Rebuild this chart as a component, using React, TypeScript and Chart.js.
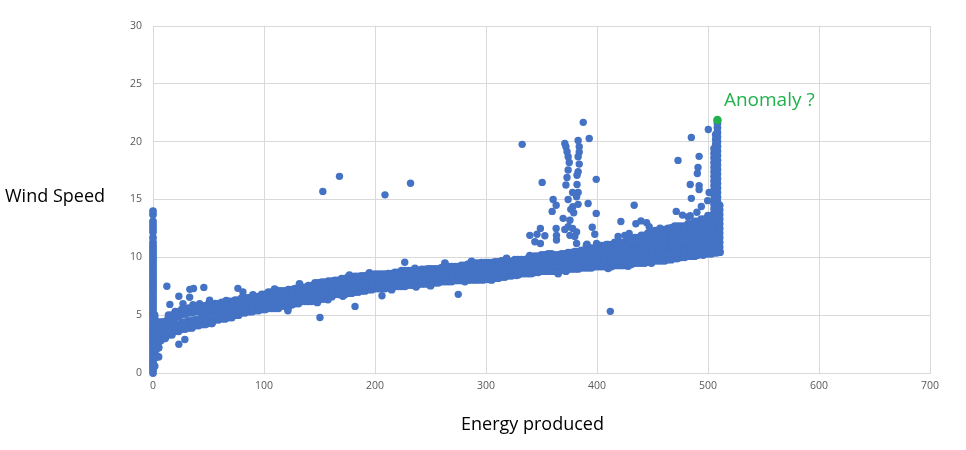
import React, { useEffect, useRef } from "react";
import { Chart, registerables } from "chart.js";

Chart.register(...registerables);

const xLabel = "Energy produced";
const yLabel = "Wind Speed";
const noteLabel = "Anomaly ?";

const bandX = [2,8,14,20,26,32,38,44,50,56,62,68,74,80,86,92,98,104,110,116,122,128,134,140,146,152,158,164,170,176,182,188,194,200,206,212,218,224,230,236,242,248,254,260,266,272,278,284,290,296,302,308,314,320,326,332,338,344,350,356,362,368,374,380,386,392,398,404,410,416,422,428,434,440,446,452,458,464,470,476,482,488,494,500,506];
const bandXAlt = [5,11,17,23,29,35,41,47,53,59,65,71,77,83,89,95,101,107,113,119,125,131,137,143,149,155,161,167,173,179,185,191,197,203,209,215,221,227,233,239,245,251,257,263,269,275,281,287,293,299,305,311,317,323,329,335,341,347,353,359,365,371,377,383,389,395,401,407,413,419,425,431,437,443,449,455,461,467,473,479,485,491,497,503,508];
const bandLow = [1.4,3.0,3.3,3.6,3.8,3.9,4.1,4.2,4.3,4.6,4.7,4.8,5.0,5.2,5.3,5.4,5.5,5.6,5.6,5.8,5.9,6.0,6.2,6.2,6.3,6.4,6.6,6.8,6.8,6.9,7.0,7.1,7.2,7.3,7.3,7.4,7.5,7.5,7.6,7.7,7.7,7.8,7.8,7.9,7.9,8.0,8.0,8.05,8.05,8.1,8.1,8.2,8.3,8.4,8.5,8.6,8.6,8.7,8.8,8.8,8.8,8.9,9.0,9.0,9.1,9.1,9.2,9.2,9.2,9.3,9.3,9.4,9.5,9.5,9.6,9.7,9.7,9.8,9.95,10.0,10.1,10.2,10.3,10.3,10.4];
const bandLowMid = [2.2,3.4,3.9,4.1,4.4,4.5,4.6,4.8,4.9,5.1,5.2,5.3,5.4,5.6,5.7,5.8,5.9,6.1,6.1,6.2,6.3,6.4,6.6,6.7,6.8,6.9,7.0,7.1,7.2,7.3,7.4,7.5,7.6,7.7,7.7,7.8,7.9,7.9,8.0,8.0,8.1,8.2,8.2,8.3,8.4,8.4,8.4,8.5,8.5,8.6,8.6,8.7,8.8,8.9,8.9,9.0,9.0,9.2,9.3,9.3,9.3,9.4,9.5,9.5,9.6,9.7,9.7,9.8,9.8,10.0,10.0,10.2,10.3,10.4,10.5,10.6,10.7,10.8,10.9,10.9,11.1,11.2,11.4,11.5,11.6];
const bandHighMid = [3.0,3.9,4.6,4.9,5.1,5.2,5.3,5.4,5.5,5.6,5.7,5.8,5.9,6.1,6.1,6.2,6.4,6.5,6.6,6.7,6.8,6.9,7.0,7.1,7.25,7.35,7.5,7.6,7.7,7.85,7.85,7.95,8.05,8.1,8.15,8.2,8.3,8.4,8.4,8.45,8.5,8.6,8.6,8.7,8.7,8.8,8.8,8.9,9.0,9.1,9.1,9.2,9.3,9.2,9.4,9.4,9.5,9.6,9.7,9.8,9.7,9.8,9.9,10.0,10.1,10.2,10.3,10.4,10.5,10.6,10.7,10.8,11.0,11.1,11.3,11.5,11.6,11.7,11.9,11.9,12.0,12.2,12.3,12.5,12.8];
const bandHigh = [4.4,4.4,5.0,5.3,5.5,5.6,5.7,5.8,5.95,6.0,6.1,6.2,6.3,6.5,6.5,6.6,6.8,7.0,7.1,7.1,7.2,7.3,7.4,7.55,7.8,7.85,7.95,8.0,8.15,8.3,8.35,8.4,8.5,8.55,8.55,8.6,8.7,8.85,8.85,8.85,8.95,9.0,9.0,9.1,9.2,9.2,9.3,9.4,9.5,9.55,9.55,9.6,9.7,9.65,9.8,9.8,9.9,10.1,10.2,10.3,10.2,10.3,10.4,10.5,10.6,10.8,10.8,11.0,11.1,11.3,11.3,11.5,11.7,11.9,12.1,12.3,12.4,12.5,12.7,12.7,12.9,13.1,13.3,13.6,14.0];

const fillX = [404,410,416,422,428,434,440,446,452,458,464,470,476,482,488,494,500,506];
const fillXAlt = [407,413,419,425,431,437,443,449,455,461,467,473,479,485,491,497,503,509];
const fillLow = [9.5,9.5,9.7,9.7,9.8,9.9,10.0,10.1,10.2,10.3,10.4,10.5,10.5,10.6,10.7,10.9,10.9,11.0];
const fillMid = [10.1,10.2,10.3,10.3,10.5,10.6,10.7,10.8,11.0,11.1,11.1,11.3,11.3,11.5,11.7,11.8,12.0,12.2];
const fillHigh = [10.7,10.8,11.0,11.0,11.2,11.3,11.4,11.5,11.7,11.9,11.9,12.2,12.2,12.4,12.6,12.8,13.0,13.4];

const fringeX = [51,66,109.6,132,53,64.5,74,121.5,138,177,195,236,263,287,171,157.6,237,281,297,318.5,339.5,390.6,408.6,456.8,467,327.5,365,410,449,472,495.6,510.8,90,148,215,250,305,372,428,488];
const fringeY = [6.1,6.25,7.25,7.7,4.3,4.7,5.0,5.55,6.3,8.45,8.65,9.05,9.5,9.65,6.65,6.35,7.45,7.9,8.05,9.9,10.15,11.05,11.1,12.5,12.55,8.45,8.6,9.05,9.5,9.9,10.2,10.45,6.75,6.1,7.2,7.55,8.05,8.8,9.25,10.1];

const cornerX = [3,3,3,3,5,5,5,5,5,7,7,7,7,9,9,9,9,11,11,11,13,13,13,16,16,19,19];
const cornerY = [1.5,2.1,2.7,3.3,2.2,2.7,3.2,3.7,4.2,2.8,3.3,3.8,4.3,3.1,3.5,3.9,4.4,3.4,3.9,4.4,3.6,4.1,4.6,3.7,4.3,3.9,4.5];

const zeroColumn = [0,0.25,0.5,0.75,1,1.25,1.5,1.75,2,2.25,2.5,2.75,3,3.25,3.5,3.75,4,4.25,4.5,4.75,5,5.25,5.5,5.75,6,6.25,6.5,6.75,7,7.25,7.5,7.75,8,8.25,8.5,8.75,9,9.25,9.5,9.75,10,10.25,10.5,10.75,11,11.3,11.7,12.2,12.5,12.8,13.1,13.7,14.0];
const nearZeroColumn = [0.6,1.3,2.0,2.4,2.8,3.2,3.6,4.0,4.4,4.7,5.0];
const spikeBase = [10.5,10.9,11.3,11.7,12.1,12.5,12.9,13.3,13.7,14.1,14.5];
const spikeInner = [13.4,13.8,14.2,14.6,15.0,15.4,15.8,16.2,16.6,17.0,17.4,17.8,18.2,18.6,19.0,19.4];
const spikeLeft = [13.4,13.8,14.2,14.6,15.0,15.4,15.8,16.2,16.6,17.0,17.4,17.8,18.2,18.6,19.0,19.4,19.8,20.2,20.6];
const spikeRight = [13.6,14.0,14.4,14.8,15.2,15.6,16.0,16.4,16.8,17.2,17.6,18.0,18.4,18.8,19.2,19.6,20.0,20.4,20.8,21.2,21.6];

const outlierX = [153,168,209,232,387.6,393,332.6,371,372,373,374,375,374,373,372,383,384,384,383,384,383,382,382,399.3,350.6,360.5,363.2,359.6,378,383,374,381.6,383,378.2,376.4,379,392,399.3,369.5,375.6,374,371,378,381.6,375.6,380,395.7,398,363.2,363.5,363.5,349,339.5,346,353,344,349,381.6,391,399.6,433.5,421.5,439.6,435,444.7,447,429,419,425,500.3,485,492,473,491,490.4,484,492,492,485,499.7,501,494,471.4,477,482,484,490,412,275,12.5,23.3,15.2,23.3,28.7,33.2,36.5,45.8,33,27,36,42,51,76.5,81,226.8,150.4,182,206.3,121.5];
const outlierY = [15.7,17,15.4,16.4,21.67,20.28,19.77,19.85,19.56,19.13,18.7,18.2,17.55,16.9,16.25,20.1,19.56,19.1,18.7,18.06,17.4,17.1,16.3,16.74,16.48,15,14.5,13.97,15.6,15.6,15,15.24,14.58,14.37,14.15,13.85,14.66,13.8,13.37,13.2,12.65,12.4,12.5,12.2,11.9,11.8,12.6,12,12.5,11.9,11.5,12.5,11.9,12,11.87,11.35,11.2,11.2,11.14,11.2,14.5,13.1,13.15,12.9,13,12.65,12.07,11.8,11.9,21.05,20.37,18.73,18.38,17.77,17.25,16.3,16.2,15.87,15.1,14.9,15.6,14.4,13.97,13.65,13.5,13.6,13.9,5.33,6.8,7.5,6.63,5.93,2.48,2.9,7.23,7.3,7.4,6.55,6,5.9,6,6.3,7.32,7,9.57,4.8,5.76,6.68,5.38];

const anomalyX = [508.5];
const anomalyY = [21.87];
const xMax = 700;
const yMax = 30;

const pair = (xs: number[], ys: number[]) => ys.map((y, i) => ({ x: xs[i], y }));
const column = (x: number, ys: number[]) => ys.map((y) => ({ x, y }));

const blue = "#4472c4";
const green = "#22b14c";
const fontFamily = "'Open Sans', sans-serif";

const textPlugin = {
  id: "notes",
  afterDatasetsDraw(chart: any) {
    const { ctx, scales } = chart;
    ctx.save();
    ctx.textBaseline = "middle";
    ctx.textAlign = "left";
    ctx.font = `18px ${fontFamily}`;
    ctx.fillStyle = "#000000";
    ctx.fillText(yLabel, 5, 197);
    ctx.fillText(xLabel, 461, 425);
    ctx.font = `19px ${fontFamily}`;
    ctx.fillStyle = green;
    ctx.fillText(noteLabel, scales.x.getPixelForValue(anomalyX[0]) + 6.5, scales.y.getPixelForValue(anomalyY[0]) - 19.5);
    ctx.restore();
  },
};

export default function App() {
  const ref = useRef<HTMLCanvasElement>(null);
  useEffect(() => {
    const bandPoints = [
      ...pair(bandX, bandLow),
      ...pair(bandXAlt, bandLow),
      ...pair(bandX, bandLowMid),
      ...pair(bandXAlt, bandLowMid),
      ...pair(bandX, bandHighMid),
      ...pair(bandXAlt, bandHighMid),
      ...pair(bandX, bandHigh),
      ...pair(bandXAlt, bandHigh),
      ...pair(fillX, fillLow),
      ...pair(fillXAlt, fillLow),
      ...pair(fillX, fillMid),
      ...pair(fillXAlt, fillMid),
      ...pair(fillX, fillHigh),
      ...pair(fillXAlt, fillHigh),
      ...pair(fringeX, fringeY),
      ...pair(cornerX, cornerY),
      ...column(0, zeroColumn),
      ...column(1.5, nearZeroColumn),
      ...column(510.5, spikeBase),
      ...column(505.5, spikeInner),
      ...column(507, spikeLeft),
      ...column(508.5, spikeRight),
    ];
    const chart = new Chart(ref.current!, {
      type: "scatter",
      data: {
        datasets: [
          { label: "Anomaly", data: pair(anomalyX, anomalyY), backgroundColor: green, borderColor: green, pointRadius: 4.3, pointBorderWidth: 0, clip: false },
          { label: "Outliers", data: pair(outlierX, outlierY), backgroundColor: blue, borderColor: blue, pointRadius: 3.7, pointBorderWidth: 0, clip: false },
          { label: "Wind Speed", data: bandPoints, backgroundColor: blue, borderColor: blue, pointRadius: 3.9, pointBorderWidth: 0, clip: false },
        ],
      },
      options: {
        animation: false,
        responsive: false,
        layout: { padding: { top: 26, right: 36, left: 0, bottom: 0 } },
        plugins: { legend: { display: false }, tooltip: { enabled: false } },
        scales: {
          x: {
            type: "linear",
            min: 0,
            max: xMax,
            afterFit: (s: any) => { s.height = 77; },
            grid: { color: "#d9d9d9", drawTicks: false },
            border: { color: "#d9d9d9" },
            ticks: { stepSize: 100, color: "#595959", font: { family: fontFamily, size: 10.5 }, padding: 7, maxRotation: 0 },
          },
          y: {
            type: "linear",
            min: 0,
            max: yMax,
            afterFit: (s: any) => { s.width = 153; },
            grid: { color: "#d9d9d9", drawTicks: false },
            border: { color: "#d9d9d9" },
            ticks: { stepSize: 5, color: "#595959", font: { family: fontFamily, size: 10.5 }, padding: 11 },
          },
        },
      },
      plugins: [textPlugin],
    } as any);
    return () => chart.destroy();
  }, []);
  return (
    <div style={{ position: "fixed", left: 0, top: 0, width: 966, height: 450, background: "#ffffff" }}>
      <canvas ref={ref} width={966} height={450} style={{ display: "block" }} />
    </div>
  );
}
